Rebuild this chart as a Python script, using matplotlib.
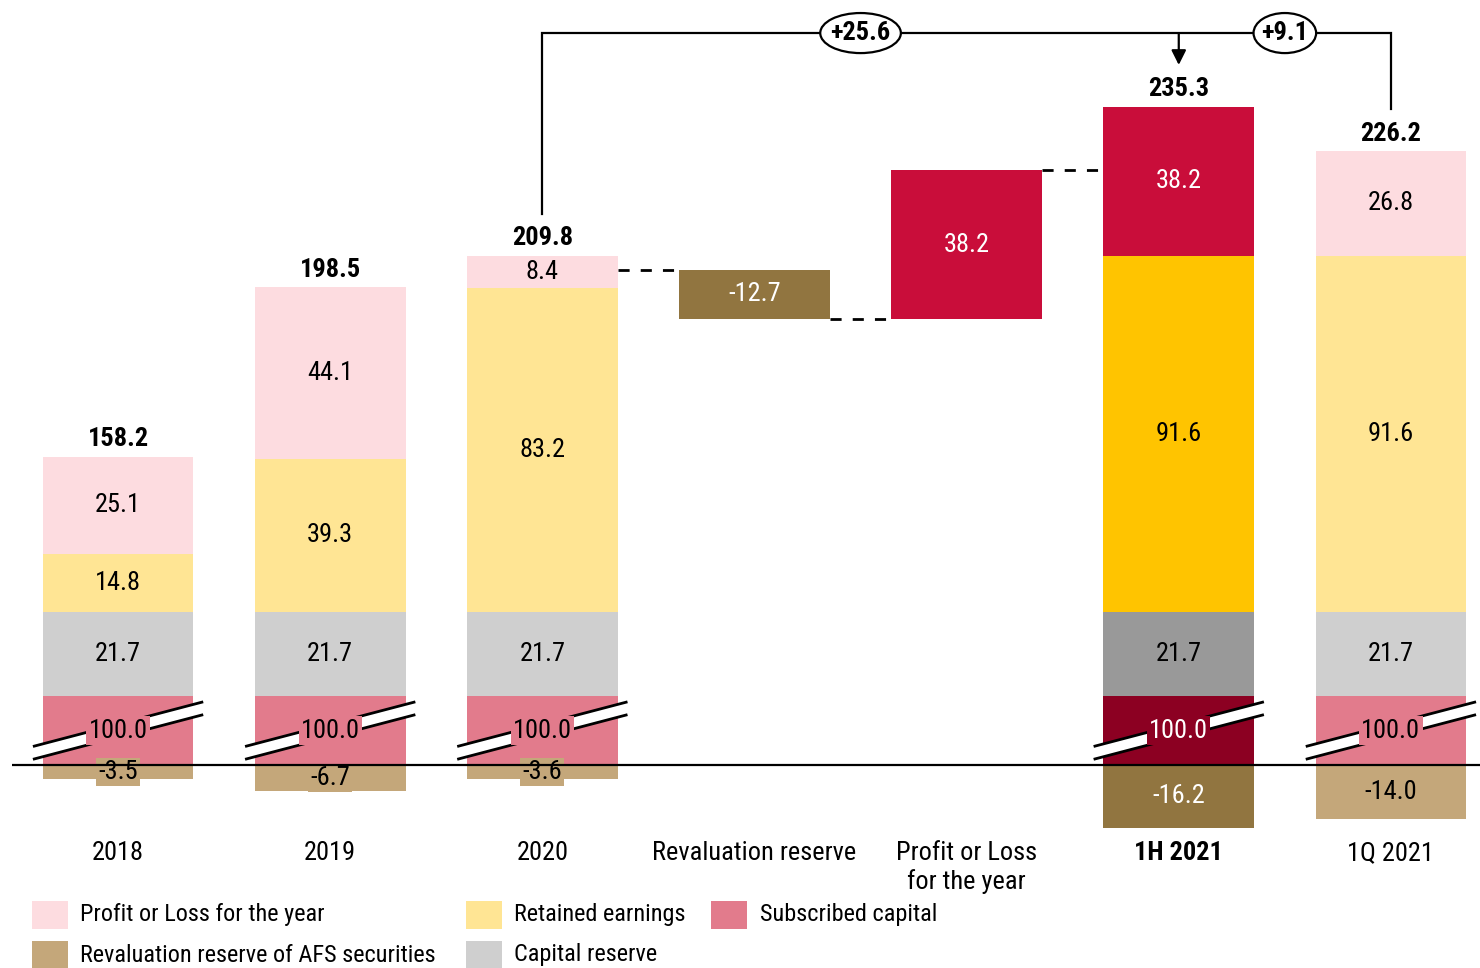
import matplotlib
matplotlib.use("Agg")
import matplotlib.pyplot as plt
from matplotlib import font_manager
from matplotlib.patches import Ellipse, Polygon, Rectangle, FancyArrowPatch


# Categorias e valores
categories = ["2018", "2019", "2020", "Revaluation reserve",
              "Profit or Loss\nfor the year", "1H 2021", "1Q 2021"]
stack_pos = [0, 1, 2, 5, 6]
subscribed = [100.0, 100.0, 100.0, 100.0, 100.0]
capital_reserve = [21.7, 21.7, 21.7, 21.7, 21.7]
retained = [14.8, 39.3, 83.2, 91.6, 91.6]
profit = [25.1, 44.1, 8.4, 38.2, 26.8]
reval_afs = [-3.5, -6.7, -3.6, -16.2, -14.0]
totals = [158.2, 198.5, 209.8, 235.3, 226.2]
reval_change = -12.7
profit_change = 38.2
delta_labels = ["+25.6", "+9.1"]

legend_labels = ["Profit or Loss for the year", "Retained earnings", "Subscribed capital",
                 "Revaluation reserve of AFS securities", "Capital reserve"]

# Cores
c_profit = "#FDDCE0"
c_retained = "#FFE594"
c_capital = "#CFCFCF"
c_sub = "#E27B8C"
c_reval = "#C4A77A"
hl_profit = "#C90D3A"
hl_retained = "#FFC400"
hl_capital = "#999999"
hl_sub = "#8C0022"
hl_reval = "#917540"

SUB_DRAWN = 17.7  # o capital subscrito é desenhado comprimido (eixo quebrado)
BAR_W = 0.71


def pick_font():
    # procura uma fonte estreita parecida com Arial Narrow
    fonts = font_manager.fontManager.ttflist
    for want in ["Liberation Sans Narrow", "Arial Narrow", "Roboto Condensed",
                 "Open Sans Condensed", "Noto Sans Condensed", "DejaVu Sans Condensed"]:
        for f in fonts:
            if f.name == want:
                return f.name, "normal", 19
    for f in fonts:
        if f.name in ("Noto Sans", "Open Sans", "DejaVu Sans") and \
                str(f.stretch) in ("condensed", "semi-condensed", "75", "87.5"):
            return f.name, f.stretch, 19
    return "Roboto", "normal", 17


def draw_break(ax, x, yc, color, label, fs):
    hw = 0.395
    rise = 5.65
    th = 1.65
    bl = (x - hw, yc - rise - th)
    br = (x + hw, yc + rise - th)
    tr = (x + hw, yc + rise + th)
    tl = (x - hw, yc - rise + th)
    ax.add_patch(Polygon([bl, br, tr, tl], closed=True, facecolor="white",
                         edgecolor="none", zorder=4))
    ax.plot([bl[0], br[0]], [bl[1], br[1]], color="black", lw=2, zorder=5)
    ax.plot([tl[0], tr[0]], [tl[1], tr[1]], color="black", lw=2, zorder=5)
    txt_color = "white" if color == hl_sub else "black"
    ax.text(x, yc, label, ha="center", va="center", fontsize=fs, color=txt_color,
            zorder=6, bbox=dict(facecolor=color, edgecolor="none", pad=1.5))


def main():
    family, stretch, FS = pick_font()
    plt.rcParams["font.family"] = [family, "DejaVu Sans"]
    plt.rcParams["font.stretch"] = stretch

    fig = plt.figure(figsize=(14.8, 9.68), dpi=100)
    ax = fig.add_axes([12 / 1480, 0, 1 - 12 / 1480, 1])
    ax.set_xlim(-0.5, 6.42)
    ax.set_ylim(-52.2, 196.7)
    ax.axis("off")

    tops = []
    for k, x in enumerate(stack_pos):
        hl = categories[x] == "1H 2021"
        cols = [hl_sub, hl_capital, hl_retained, hl_profit, hl_reval] if hl else \
               [c_sub, c_capital, c_retained, c_profit, c_reval]
        light_txt = "white" if hl else "black"

        ax.bar(x, SUB_DRAWN, BAR_W, bottom=0, color=cols[0], zorder=2)
        b = SUB_DRAWN
        segs = [(capital_reserve[k], cols[1], "black"),
                (retained[k], cols[2], "black"),
                (profit[k], cols[3], light_txt)]
        for val, col, tc in segs:
            ax.bar(x, val, BAR_W, bottom=b, color=col, zorder=2)
            ax.text(x, b + val / 2, f"{val:.1f}", ha="center", va="center",
                    fontsize=FS, color=tc, zorder=3)
            b += val
        tops.append(b)

        ax.bar(x, reval_afs[k], BAR_W, bottom=0, color=cols[4], zorder=2)
        ax.text(x, reval_afs[k] / 2, f"{reval_afs[k]:.1f}", ha="center", va="center",
                fontsize=FS, color=light_txt, zorder=3,
                bbox=dict(facecolor=cols[4], edgecolor="none", pad=1.5))

        draw_break(ax, x, SUB_DRAWN / 2, cols[0], f"{subscribed[k]:.1f}", FS)

        ax.text(x, b + 4.5, f"{totals[k]:.1f}", ha="center", va="center",
                fontsize=FS, fontweight="bold", zorder=3)

    # Ponte: reserva de reavaliação e lucro do período
    net_2020 = tops[2] + reval_afs[2]
    reval_bottom = net_2020 + reval_change
    ax.bar(3, reval_change, BAR_W, bottom=net_2020, color=hl_reval, zorder=2)
    ax.text(3, net_2020 + reval_change / 2, f"{reval_change:.1f}", ha="center",
            va="center", fontsize=FS, color="white", zorder=3)
    ax.bar(4, profit_change, BAR_W, bottom=reval_bottom, color=hl_profit, zorder=2)
    ax.text(4, reval_bottom + profit_change / 2, f"{profit_change:.1f}", ha="center",
            va="center", fontsize=FS, color="white", zorder=3)
    profit_top = reval_bottom + profit_change

    dash = dict(color="black", lw=2, linestyle=(0, (4, 4)), zorder=3)
    ax.plot([2 + BAR_W / 2, 3 - BAR_W / 2], [net_2020, net_2020], **dash)
    ax.plot([3 + BAR_W / 2, 4 - BAR_W / 2], [reval_bottom, reval_bottom], **dash)
    ax.plot([4 + BAR_W / 2, 5 - BAR_W / 2], [profit_top, profit_top], **dash)

    # Eixo zero
    ax.axhline(0, color="black", lw=1.6, zorder=7)

    # Colchete superior com variações
    y_line = 188.2
    gap = 10.8
    ax.plot([2, 2, 6, 6], [tops[2] + gap, y_line, y_line, tops[4] + gap],
            color="black", lw=1.6, zorder=3, solid_joinstyle="miter")
    ax.add_patch(FancyArrowPatch((5, y_line), (5, tops[3] + gap), arrowstyle="-|>",
                                 mutation_scale=22, color="black", lw=1.6,
                                 shrinkA=0, shrinkB=0, zorder=3))
    for xc, w, lab in [(3.5, 0.38, delta_labels[0]), (5.5, 0.295, delta_labels[1])]:
        ax.add_patch(Ellipse((xc, y_line), w, 10.3, facecolor="white",
                             edgecolor="black", lw=1.6, zorder=4))
        ax.text(xc, y_line, lab, ha="center", va="center", fontsize=FS,
                fontweight="bold", zorder=5)

    # Rótulos das categorias
    for i, cat in enumerate(categories):
        ax.text(i, -19.6, cat, ha="center", va="top", fontsize=FS, linespacing=1.2,
                fontweight="bold" if cat == "1H 2021" else "normal")

    # Legenda manual
    leg_items = [(32, 901, c_profit, 80, 915, legend_labels[0]),
                 (466, 901, c_retained, 514, 915, legend_labels[1]),
                 (711, 901, c_sub, 760, 915, legend_labels[2]),
                 (32, 941, c_reval, 80, 955, legend_labels[3]),
                 (466, 941, c_capital, 514, 955, legend_labels[4])]
    W, H = 1480, 968
    for px, py, col, tx, ty, lab in leg_items:
        fig.patches.append(Rectangle((px / W, 1 - (py + 28) / H), 36 / W, 28 / H,
                                     facecolor=col, edgecolor="none",
                                     transform=fig.transFigure))
        fig.text(tx / W, 1 - ty / H, lab, ha="left", va="center", fontsize=FS - 1.5)

    fig.savefig("out.png", dpi=100)


if __name__ == "__main__":
    main()
